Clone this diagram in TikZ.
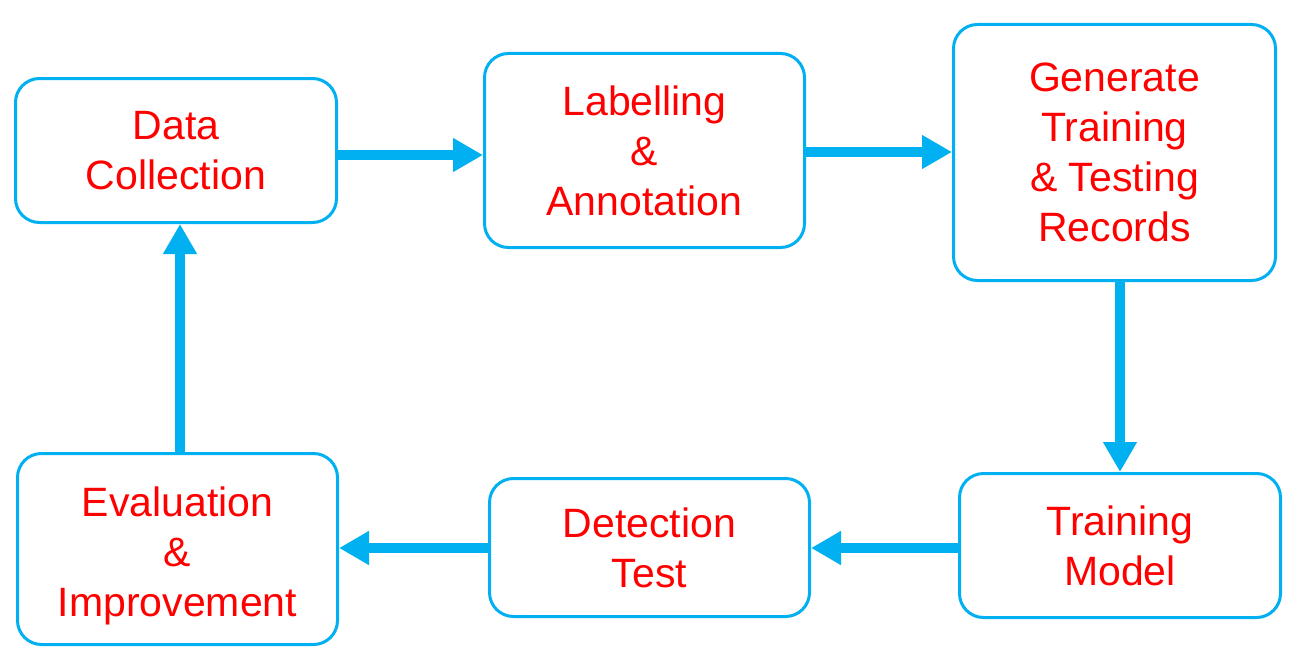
\documentclass[tikz,border=0pt]{standalone}
\usepackage{fontspec}
\setmainfont{Liberation Sans}
\usetikzlibrary{arrows.meta}
\definecolor{boxblue}{RGB}{0,176,240}
\definecolor{txtred}{RGB}{255,0,0}
\begin{document}
\begin{tikzpicture}[x=1pt,y=-1pt,
  stagetext/.style={text=txtred,align=center,inner sep=0pt,
    font=\fontsize{41}{50}\selectfont},
  stagebox/.style={draw=boxblue,line width=3pt,rounded corners=24pt,fill=white,stagetext},
  flow/.style={draw=boxblue,line width=10pt,-{Triangle[length=30pt,width=32pt]}}]
\useasboundingbox (0,0) rectangle (1295,661);
\node[stagebox,minimum width=321pt,minimum height=144pt] (b1) at (176,150.5) {Data\\Collection};
\node[stagebox,minimum width=320pt,minimum height=194pt] (b2) at (644.5,150.5) {Labelling\\\&\\Annotation};
\node[stagebox,minimum width=322pt,minimum height=256pt] (b3) at (1114.5,152.5) {Generate\\Training\\\& Testing\\Records};
\node[stagebox,minimum width=321pt,minimum height=144pt] (b4) at (1120,545.5) {Training\\Model};
\node[stagebox,minimum width=320pt,minimum height=138pt] (b5) at (649.5,547.5) {Detection\\Test};
\node[stagebox,minimum width=320pt,minimum height=191pt,
  label={[stagetext,yshift=-7pt]center:Evaluation\\\&\\Improvement}] (b6) at (177.5,549) {};
\coordinate (y12) at (0,155);
\coordinate (y23) at (0,152);
\coordinate (x34) at (1120,0);
\coordinate (y45) at (0,548);
\coordinate (x61) at (180,0);
\draw[flow] (b1.east |- y12) -- (b2.west |- y12);
\draw[flow] (b2.east |- y23) -- (b3.west |- y23);
\draw[flow] (x34 |- b3.south) -- (x34 |- b4.north);
\draw[flow] (b4.west |- y45) -- (b5.east |- y45);
\draw[flow] (b5.west |- y45) -- (b6.east |- y45);
\draw[flow] (x61 |- b6.north) -- (x61 |- b1.south);
\end{tikzpicture}
\end{document}
